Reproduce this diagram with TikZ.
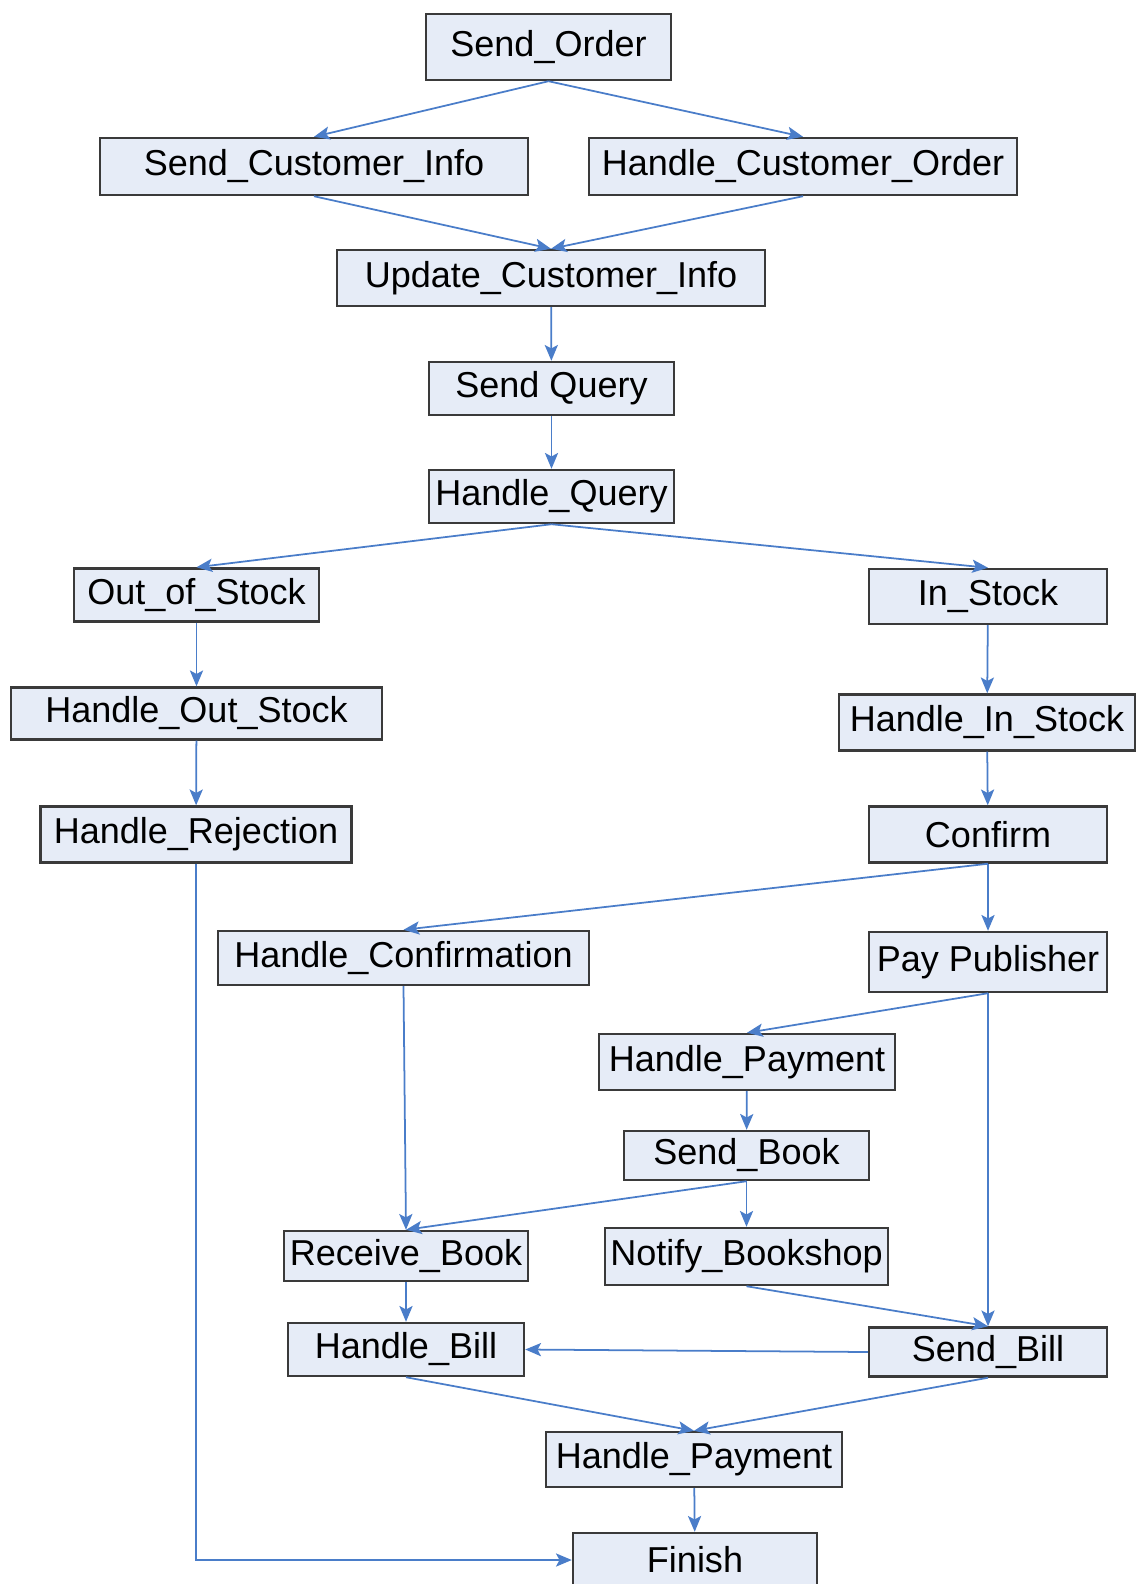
\documentclass[tikz,border=0pt]{standalone}
\usepackage{fontspec}
\setmainfont{Liberation Sans}
\usetikzlibrary{arrows.meta}
\definecolor{boxfill}{HTML}{E6ECF7}
\definecolor{boxline}{HTML}{3A3A3A}
\definecolor{flowblue}{HTML}{4A7DC9}

\begin{document}
\begin{tikzpicture}[
  x=0.02cm,
  y=-0.02cm,
  every node/.style={font=\fontsize{20.5}{24}\selectfont, text=black},
  task/.style={draw=boxline, fill=boxfill, line width=1.4pt, inner sep=0pt},
  flow/.style={flowblue, line width=1pt,
               -{Stealth[length=9pt, width=7.5pt, inset=2pt]}}
]
  % ---- page frame, in pixels of the reference ----
  \useasboundingbox (0,0) rectangle (1136,1584);

  % ---- upper part: order and query ----
  \node[task, minimum width=4.9cm, minimum height=1.32cm] (sendorder) at (548.5,47) {Send\_Order};
  \node[task, minimum width=8.56cm, minimum height=1.14cm] (sendinfo) at (314,166.5) {Send\_Customer\_Info};
  \node[task, minimum width=8.56cm, minimum height=1.14cm] (handleorder) at (803,166.5) {Handle\_Customer\_Order};
  \node[task, minimum width=8.56cm, minimum height=1.12cm] (updateinfo) at (551,278) {Update\_Customer\_Info};
  \node[task, minimum width=4.9cm, minimum height=1.06cm] (sendquery) at (551.5,388.5) {Send Query};
  \node[task, minimum width=4.9cm, minimum height=1.06cm] (handlequery) at (551.5,496.5) {Handle\_Query};

  % ---- left branch ----
  \node[task, minimum width=4.9cm, minimum height=1.06cm] (outstock) at (196.5,595) {Out\_of\_Stock};
  \node[task, minimum width=7.42cm, minimum height=1.04cm] (handleout) at (196.5,713.5) {Handle\_Out\_Stock};
  \node[task, minimum width=6.22cm, minimum height=1.12cm] (rejection) at (196,834.5) {Handle\_Rejection};

  % ---- right branch ----
  \node[task, minimum width=4.76cm, minimum height=1.1cm] (instock) at (988,596.5) {In\_Stock};
  \node[task, minimum width=5.92cm, minimum height=1.12cm] (handlein) at (987,722.5) {Handle\_In\_Stock};
  \node[task, minimum width=4.76cm, minimum height=1.12cm] (confirm) at (988,834.5) {Confirm};
  \node[task, minimum width=7.42cm, minimum height=1.08cm] (handleconf) at (403.5,958) {Handle\_Confirmation};
  \node[task, minimum width=4.76cm, minimum height=1.2cm] (paypub) at (988,962) {Pay Publisher};
  \node[task, minimum width=5.92cm, minimum height=1.12cm] (handlepay) at (747,1062) {Handle\_Payment};
  \node[task, minimum width=4.9cm, minimum height=0.98cm] (sendbook) at (746.5,1155.5) {Send\_Book};
  \node[task, minimum width=4.88cm, minimum height=1.0cm] (receivebook) at (406,1256) {Receive\_Book};
  \node[task, minimum width=5.66cm, minimum height=1.14cm] (notify) at (746.5,1256.5) {Notify\_Bookshop};
  \node[task, minimum width=4.72cm, minimum height=1.06cm] (handlebill) at (406,1349.5) {Handle\_Bill};
  \node[task, minimum width=4.76cm, minimum height=0.98cm] (sendbill) at (988,1352) {Send\_Bill};

  % ---- end ----
  \node[task, minimum width=5.92cm, minimum height=1.1cm] (handlepay2) at (694,1459.5) {Handle\_Payment};
  \node[task, minimum width=4.88cm, minimum height=1.08cm] (finish) at (695,1560) {Finish};

  % ---- connectors ----
  \draw[flow] (sendorder.south) -- (sendinfo.north);
  \draw[flow] (sendorder.south) -- (handleorder.north);
  \draw[flow] (sendinfo.south) -- (updateinfo.north);
  \draw[flow] (handleorder.south) -- (updateinfo.north);
  \draw[flow] (updateinfo) -- (sendquery);
  \draw[flow] (sendquery) -- (handlequery);
  \draw[flow] (handlequery.south) -- (outstock.north);
  \draw[flow] (handlequery.south) -- (instock.north);
  \draw[flow] (outstock) -- (handleout);
  \draw[flow] (handleout) -- (rejection);
  \draw[flow] (instock) -- (handlein);
  \draw[flow] (handlein) -- (confirm);
  \draw[flow] (confirm.south) -- (handleconf.north);
  \draw[flow] (confirm) -- (paypub);
  \draw[flow] (paypub.south) -- (handlepay.north);
  \draw[flow] (paypub) -- (sendbill);
  \draw[flow] (handleconf.south) -- (receivebook.north);
  \draw[flow] (handlepay) -- (sendbook);
  \draw[flow] (sendbook.south) -- (receivebook.north);
  \draw[flow] (sendbook) -- (notify);
  \draw[flow] (receivebook) -- (handlebill);
  \draw[flow] (notify.south) -- (sendbill.north);
  \draw[flow] (sendbill.west) -- (handlebill.east);
  \draw[flow] (handlebill.south) -- (handlepay2.north);
  \draw[flow] (sendbill.south) -- (handlepay2.north);
  \draw[flow] (handlepay2) -- (finish);
  \draw[flow] (rejection.south) |- (finish.west);
\end{tikzpicture}
\end{document}
